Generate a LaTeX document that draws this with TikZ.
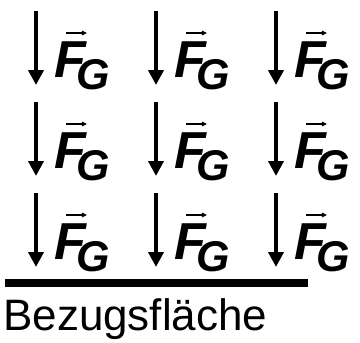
\documentclass[tikz,border=0pt]{standalone}
\usepackage{fontspec}
\setmainfont{Liberation Sans}
\usetikzlibrary{arrows.meta}
\tikzset{
  x=1pt, y=-1pt,
  force/.style={line width=4pt, -{Triangle[width=15pt,length=15pt]}},
  fg/.style={anchor=base west, inner sep=0pt, font=\fontsize{52}{52}\selectfont\bfseries\itshape},
  vec/.style={line width=1.3pt, -{Triangle[width=4.5pt,length=5pt]}},
  ground/.style={line width=8pt},
  label/.style={anchor=base west, inner sep=0pt, font=\fontsize{44}{44}\selectfont}
}
\newcommand\mysubG{\kern-9pt\raisebox{-12pt}{\fontsize{43}{43}\selectfont G}}
\begin{document}
\begin{tikzpicture}
\useasboundingbox (0,0) rectangle (360,343);
\foreach \r/\dy in {1/0,2/91,3/182}{
  \foreach \c/\dx in {1/0,2/120,3/240}{
    \coordinate (a\r\c) at (36+\dx,11+\dy);
    \coordinate (b\r\c) at (36+\dx,85+\dy);
    \draw[force] (a\r\c) -- (b\r\c);
    \node[fg] (f\r\c) at (54+\dx,77+\dy) {F\mysubG};
    \coordinate (v\r\c) at (66+\dx,33+\dy);
    \coordinate (w\r\c) at (87+\dx,33+\dy);
    \draw[vec] (v\r\c) -- (w\r\c);
  }
}
\coordinate (g1) at (5,283);
\coordinate (g2) at (308,283);
\draw[ground] (g1) -- (g2);
\node[label] (bez) at (3,330) {Bezugsfläche};
\end{tikzpicture}
\end{document}
